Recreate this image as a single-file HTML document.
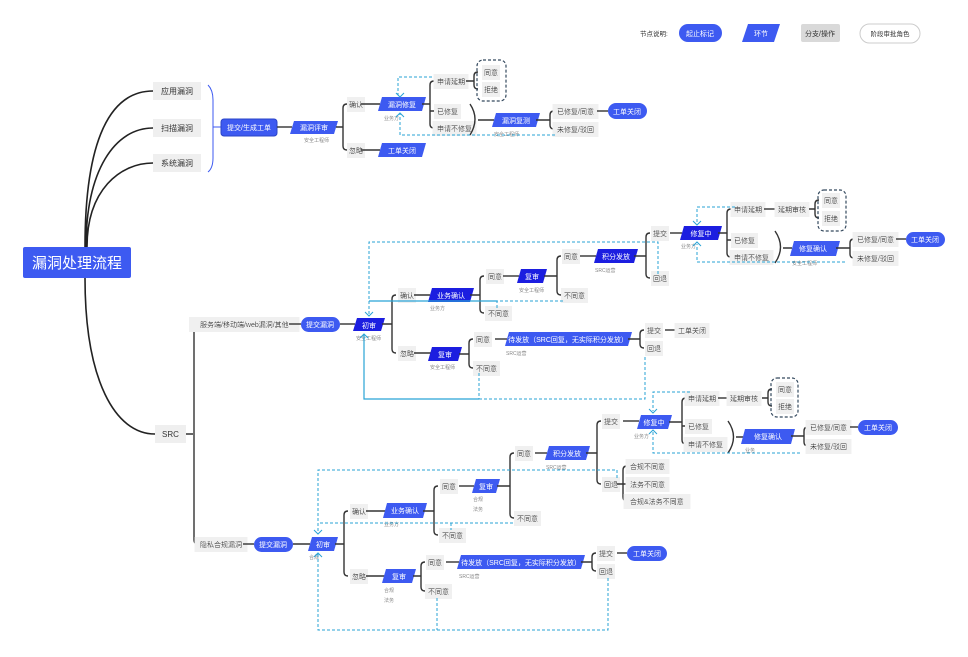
<!DOCTYPE html>
<html><head><meta charset="utf-8"><style>
html,body{margin:0;padding:0;background:#fff;}
svg{display:block;font-family:"Liberation Sans","Noto Sans CJK SC",sans-serif;}
.w{fill:#fff;font-size:7px;text-anchor:middle;}
.t{fill:#333;font-size:7px;filter:url(#bgf);}
.s{fill:#888;font-size:5px;}
.bg{fill:#efefef;}
.b{fill:#3d5af1;}
.d{fill:#1c1ee0;}
.ln{fill:none;stroke:#333;stroke-width:1.4;}
.rt{fill:none;stroke:#222;stroke-width:1.6;}
.da{fill:none;stroke:#29a3d6;stroke-width:1;stroke-dasharray:3,2;}
.so{fill:none;stroke:#29a3d6;stroke-width:1.2;}
.bx{fill:none;stroke:#34495e;stroke-width:1.2;stroke-dasharray:3,2;}
.br{fill:none;stroke:#3d5af1;stroke-width:1;}
</style></head><body>
<svg width="968" height="657" viewBox="0 0 968 657" xmlns="http://www.w3.org/2000/svg">
<defs><filter id="bgf" x="-0.12" y="-0.3" width="1.24" height="1.6"><feFlood flood-color="#f0f0f0"/><feComposite in="SourceGraphic"/></filter></defs>
<!-- Legend -->
<text x="640" y="36" fill="#333" style="font-size:6.5px">节点说明:</text>
<rect x="679" y="24" width="43" height="18" rx="9" class="b"/><text x="700" y="36" class="w">起止标记</text>
<polygon points="748,24 780,24 774,42 742,42" class="b"/><text x="761" y="36" class="w">环节</text>
<rect x="801" y="24" width="39" height="18" rx="2" fill="#d9d9d9"/><text x="820" y="36" fill="#333" style="font-size:7px;text-anchor:middle">分支/操作</text>
<rect x="860" y="24" width="60" height="19" rx="9.5" fill="#fff" stroke="#ccc"/><text x="890" y="36" fill="#333" style="text-anchor:middle;font-size:6.5px">阶段审批角色</text>

<!-- Root -->
<rect x="23" y="247" width="108" height="31" rx="2" class="b"/>
<text x="77" y="268" class="w" style="font-size:15px">漏洞处理流程</text>
<path class="rt" d="M85,247 C85,140 110,91 153,91 M86,247 C86,170 115,128 153,128 M87,247 C87,190 120,163 153,163 M85,278 C85,380 115,434 155,434"/>
<rect x="153" y="82" width="48" height="18" class="bg"/><text x="161" y="94" fill="#333" style="font-size:8px">应用漏洞</text>
<rect x="153" y="119" width="48" height="18" class="bg"/><text x="161" y="131" fill="#333" style="font-size:8px">扫描漏洞</text>
<rect x="153" y="154" width="48" height="18" class="bg"/><text x="161" y="166" fill="#333" style="font-size:8px">系统漏洞</text>
<rect x="155" y="425" width="31" height="18" class="bg"/><text x="162" y="437" fill="#333" style="font-size:8px">SRC</text>

<!-- Top flow -->
<path class="br" d="M208,85 Q213,90 213,100 V158 Q213,168 208,172 M213,127 H221"/>
<rect x="221" y="119" width="56" height="17" rx="3" class="b" stroke="#2a44c8"/><text x="249" y="130" class="w">提交/生成工单</text>
<path class="ln" d="M277,127 H292"/>
<polygon points="294,121 338,121 334,134 290,134" class="b"/><text x="314" y="130" class="w">漏洞评审</text>
<text x="304" y="142" class="s">安全工程师</text>
<path class="ln" d="M336,127 H343 M347,104 Q343,104 343,108 V146 Q343,150 347,150"/>
<text x="349" y="107" class="t">确认</text><text x="349" y="153" class="t">忽略</text>
<path class="ln" d="M361,104 H380 M361,150 H380"/>
<polygon points="382,97 426,97 422,111 378,111" class="b"/><text x="402" y="107" class="w">漏洞修复</text>
<text x="384" y="120" class="s">业务方</text>
<polygon points="382,143 426,143 422,157 378,157" class="b"/><text x="402" y="153" class="w">工单关闭</text>
<path class="ln" d="M422,104 H430 M434,81 Q430,81 430,85 V124 Q430,128 434,128 M430,111 H434"/>
<text x="437" y="84" class="t">申请延期</text><text x="437" y="114" class="t">已修复</text><text x="437" y="131" class="t">申请不修复</text>
<path class="ln" d="M466,81 H474 M478,72 Q474,72 474,76 V85 Q474,89 478,89"/>
<rect x="477" y="60" width="29" height="41" rx="6" class="bx"/>
<text x="484" y="75" class="t">同意</text><text x="484" y="92" class="t">拒绝</text>
<path class="ln" d="M470,104 Q480,119 470,135 M478,120 H494"/>
<polygon points="496,113 540,113 536,127 492,127" class="b"/><text x="516" y="123" class="w">漏洞复测</text>
<text x="494" y="136" class="s">安全工程师</text>
<path class="ln" d="M536,120 H550 M554,111 Q550,111 550,115 V125 Q550,129 554,129"/>
<text x="557" y="114" class="t">已修复/同意</text><text x="557" y="132" class="t">未修复/驳回</text>
<path class="ln" d="M597,111 H608"/>
<rect x="608" y="103" width="39" height="16" rx="8" class="b"/><text x="627" y="114" class="w">工单关闭</text>
<path class="da" d="M432,77 H398 V95 M555,135 H400 V114"/>
<path d="M396,93 L400,97 L404,93" fill="none" stroke="#29a3d6"/><path d="M396,117 L400,113 L404,117" fill="none" stroke="#29a3d6"/>

<!-- SRC bracket -->
<path class="ln" d="M186,434 H193 M198,324 Q194,324 194,328 V540 Q194,544 198,544"/>
<text x="200" y="327" class="t">服务端/移动端/web漏洞/其他</text>
<text x="200" y="547" class="t">隐私合规漏洞</text>

<!-- SRC upper -->
<path class="ln" d="M289,324 H301"/>
<rect x="301" y="317" width="39" height="15" rx="7.5" class="b"/><text x="320" y="327" class="w">提交漏洞</text>
<path class="ln" d="M340,324 H355"/>
<polygon points="357,318 385,318 381,331 353,331" class="d"/><text x="369" y="328" class="w">初审</text>
<text x="356" y="340" class="s">安全工程师</text>
<path class="ln" d="M382,324 H392 M396,295 Q392,295 392,299 V349 Q392,353 396,353"/>
<text x="400" y="298" class="t">确认</text><text x="400" y="356" class="t">忽略</text>
<path class="ln" d="M414,295 H430 M414,353 H432"/>
<polygon points="432,288 474,288 470,302 428,302" class="d"/><text x="451" y="298" class="w">业务确认</text>
<text x="430" y="310" class="s">业务方</text>
<path class="ln" d="M470,295 H480 M484,276 Q480,276 480,280 V309 Q480,313 484,313"/>
<text x="488" y="279" class="t">同意</text><text x="488" y="316" class="t">不同意</text>
<path class="ln" d="M503,276 H519"/>
<polygon points="521,269 547,269 543,283 517,283" class="d"/><text x="532" y="279" class="w">复审</text>
<text x="519" y="292" class="s">安全工程师</text>
<path class="ln" d="M544,276 H557 M561,256 Q557,256 557,260 V291 Q557,295 561,295"/>
<text x="564" y="259" class="t">同意</text><text x="564" y="298" class="t">不同意</text>
<path class="ln" d="M580,256 H596"/>
<polygon points="598,249 638,249 634,263 594,263" class="d"/><text x="616" y="259" class="w">积分发放</text>
<text x="595" y="272" class="s">SRC运营</text>
<path class="ln" d="M634,256 H646 M650,233 Q646,233 646,237 V274 Q646,278 650,278"/>
<text x="653" y="236" class="t">提交</text><text x="653" y="281" class="t">回退</text>
<path class="ln" d="M670,233 H682"/>
<polygon points="684,226 722,226 718,240 680,240" class="d"/><text x="701" y="236" class="w">修复中</text>
<text x="681" y="248" class="s">业务方</text>
<path class="ln" d="M718,233 H727 M731,209 Q727,209 727,213 V253 Q727,257 731,257 M727,240 H731"/>
<text x="734" y="212" class="t">申请延期</text><text x="734" y="243" class="t">已修复</text><text x="734" y="260" class="t">申请不修复</text>
<path class="ln" d="M764,209 H776"/><text x="778" y="212" class="t">延期审核</text>
<path class="ln" d="M809,209 H815 M819,200 Q815,200 815,204 V214 Q815,218 819,218"/>
<rect x="818" y="190" width="28" height="41" rx="6" class="bx"/>
<text x="824" y="203" class="t">同意</text><text x="824" y="221" class="t">拒绝</text>
<path class="ln" d="M775,231 Q786,247 775,263 M783,248 H792"/>
<polygon points="794,241 840,241 836,256 790,256" class="b"/><text x="813" y="251" class="w">修复确认</text>
<text x="792" y="265" class="s">安全工程师</text>
<path class="ln" d="M836,248 H850 M854,239 Q850,239 850,243 V254 Q850,258 854,258"/>
<text x="857" y="242" class="t">已修复/同意</text><text x="857" y="261" class="t">未修复/驳回</text>
<path class="ln" d="M896,239 H906"/>
<rect x="906" y="232" width="39" height="15" rx="7.5" class="b"/><text x="925" y="242" class="w">工单关闭</text>
<path class="da" d="M735,207 H697 V223 M845,262 H697 V244"/>
<path d="M693,221 L697,225 L701,221" fill="none" stroke="#29a3d6"/><path d="M693,246 L697,242 L701,246" fill="none" stroke="#29a3d6"/>
<!-- ignore branch upper -->
<polygon points="432,347 462,347 458,361 428,361" class="d"/><text x="445" y="357" class="w">复审</text>
<text x="430" y="369" class="s">安全工程师</text>
<path class="ln" d="M459,354 H469 M473,339 Q469,339 469,343 V364 Q469,368 473,368"/>
<text x="476" y="342" class="t">同意</text><text x="476" y="371" class="t">不同意</text>
<path class="ln" d="M495,339 H507"/>
<polygon points="509,332 632,332 628,346 505,346" class="b"/><text x="568" y="342" class="w">待发放（SRC回复，无实际积分发放）</text>
<text x="506" y="355" class="s">SRC运营</text>
<path class="ln" d="M628,339 H640 M644,330 Q640,330 640,334 V344 Q640,348 644,348"/>
<text x="647" y="333" class="t">提交</text><text x="647" y="351" class="t">回退</text>
<path class="ln" d="M665,330 H675"/><text x="678" y="333" class="t">工单关闭</text>
<path class="da" d="M658,274 V242 H369 V314 M563,301 H497 V308"/>
<path class="so" d="M497,301 H369"/>
<path d="M365,312 L369,316 L373,312" fill="none" stroke="#29a3d6"/>
<path class="so" d="M364,334 V399 H479"/><path class="da" d="M479,399 H645 V355 M479,373 V399"/>
<path d="M360,338 L364,334 L368,338" fill="none" stroke="#29a3d6"/>

<!-- Privacy -->
<path class="ln" d="M243,544 H254"/>
<rect x="254" y="537" width="39" height="15" rx="7.5" class="b"/><text x="273" y="547" class="w">提交漏洞</text>
<path class="ln" d="M293,544 H310"/>
<polygon points="312,537 338,537 334,551 308,551" class="b"/><text x="323" y="547" class="w">初审</text>
<text x="309" y="559" class="s">合规</text>
<path class="ln" d="M335,544 H344 M348,511 Q344,511 344,515 V572 Q344,576 348,576"/>
<text x="352" y="514" class="t">确认</text><text x="352" y="579" class="t">忽略</text>
<path class="ln" d="M366,511 H385 M366,576 H385"/>
<polygon points="387,503 427,503 423,518 383,518" class="b"/><text x="405" y="513" class="w">业务确认</text>
<text x="384" y="526" class="s">业务方</text>
<path class="ln" d="M423,511 H434 M438,486 Q434,486 434,490 V531 Q434,535 438,535"/>
<text x="442" y="489" class="t">同意</text><text x="442" y="538" class="t">不同意</text>
<path class="ln" d="M459,486 H474"/>
<polygon points="476,479 500,479 496,493 472,493" class="b"/><text x="486" y="489" class="w">复审</text>
<text x="473" y="501" class="s">合规</text><text x="473" y="511" class="s">法务</text>
<path class="ln" d="M497,486 H510 M514,453 Q510,453 510,457 V514 Q510,518 514,518"/>
<text x="517" y="456" class="t">同意</text><text x="517" y="521" class="t">不同意</text>
<path class="ln" d="M535,453 H547"/>
<polygon points="549,446 590,446 586,460 545,460" class="b"/><text x="567" y="456" class="w">积分发放</text>
<text x="546" y="469" class="s">SRC运营</text>
<path class="ln" d="M586,453 H597 M601,421 Q597,421 597,425 V480 Q597,484 601,484"/>
<text x="604" y="424" class="t">提交</text><text x="604" y="487" class="t">回退</text>
<path class="ln" d="M623,421 H639"/>
<polygon points="641,415 672,415 668,429 637,429" class="b"/><text x="654" y="425" class="w">修复中</text>
<text x="634" y="438" class="s">业务方</text>
<path class="ln" d="M669,422 H682 M686,398 Q682,398 682,402 V440 Q682,444 686,444 M682,426 H686"/>
<text x="688" y="401" class="t">申请延期</text><text x="688" y="429" class="t">已修复</text><text x="688" y="447" class="t">申请不修复</text>
<path class="ln" d="M718,398 H728"/><text x="730" y="401" class="t">延期审核</text>
<path class="ln" d="M762,398 H768 M772,389 Q768,389 768,393 V402 Q768,406 772,406"/>
<rect x="771" y="378" width="27" height="39" rx="6" class="bx"/>
<text x="778" y="392" class="t">同意</text><text x="778" y="409" class="t">拒绝</text>
<path class="ln" d="M728,421 Q739,437 728,453 M736,437 H743"/>
<polygon points="745,429 795,429 791,444 741,444" class="b"/><text x="768" y="439" class="w">修复确认</text>
<text x="745" y="452" class="s">业务</text>
<path class="ln" d="M791,436 H804 M808,427 Q804,427 804,431 V442 Q804,446 808,446"/>
<text x="810" y="430" class="t">已修复/同意</text><text x="810" y="449" class="t">未修复/驳回</text>
<path class="ln" d="M850,427 H858"/>
<rect x="858" y="420" width="40" height="15" rx="7.5" class="b"/><text x="878" y="430" class="w">工单关闭</text>
<path class="da" d="M690,392 H653 V411 M800,453 H653 V432"/>
<path d="M649,409 L653,413 L657,409" fill="none" stroke="#29a3d6"/><path d="M649,434 L653,430 L657,434" fill="none" stroke="#29a3d6"/>
<path class="ln" d="M617,484 H623 M627,466 Q623,466 623,470 V497 Q623,501 627,501 M623,484 H627"/>
<text x="630" y="469" class="t">合规不同意</text><text x="630" y="487" class="t">法务不同意</text><text x="630" y="504" class="t">合规&amp;法务不同意</text>
<!-- privacy ignore -->
<polygon points="386,569 416,569 412,583 382,583" class="b"/><text x="399" y="579" class="w">复审</text>
<text x="384" y="592" class="s">合规</text><text x="384" y="602" class="s">法务</text>
<path class="ln" d="M413,576 H421 M425,562 Q421,562 421,566 V587 Q421,591 425,591"/>
<text x="428" y="565" class="t">同意</text><text x="428" y="594" class="t">不同意</text>
<path class="ln" d="M446,562 H459"/>
<polygon points="461,555 585,555 581,569 457,569" class="b"/><text x="521" y="565" class="w">待发放（SRC回复，无实际积分发放）</text>
<text x="459" y="578" class="s">SRC运营</text>
<path class="ln" d="M581,562 H592 M596,553 Q592,553 592,557 V567 Q592,571 596,571"/>
<text x="599" y="556" class="t">提交</text><text x="599" y="574" class="t">回退</text>
<path class="ln" d="M617,553 H627"/>
<rect x="627" y="546" width="40" height="15" rx="7.5" class="b"/><text x="647" y="556" class="w">工单关闭</text>
<path class="da" d="M617,478 V470 H318 V532 M513,523 H318 M451,523 V530"/>
<path d="M314,530 L318,534 L322,530" fill="none" stroke="#29a3d6"/>
<path class="da" d="M318,554 V630 H608 V578 M437,598 V630"/>
<path d="M314,557 L318,553 L322,557" fill="none" stroke="#29a3d6"/>
</svg>
</body></html>
